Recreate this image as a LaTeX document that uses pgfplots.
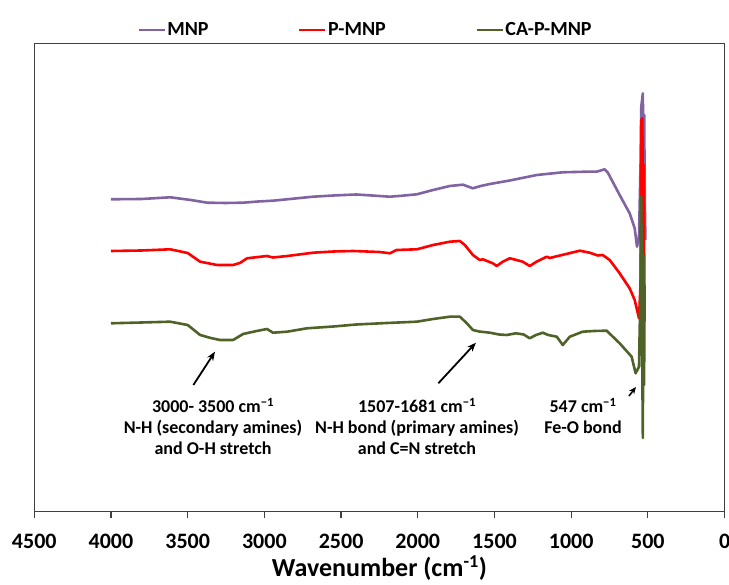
\documentclass[border=0pt]{standalone}
\usepackage{fontspec}
\setmainfont{Carlito}
\usepackage{pgfplots}
\pgfplotsset{compat=1.18}
\usetikzlibrary{arrows.meta}
\definecolor{mnp}{HTML}{8064A2}
\definecolor{pmnp}{HTML}{FF0000}
\definecolor{capmnp}{HTML}{4F6228}
\definecolor{framec}{HTML}{404040}
\begin{document}
\begin{tikzpicture}[x=1pt,y=1pt]
\useasboundingbox (0,0) rectangle (729,585);
\begin{axis}[
  at={(34.3pt,73.3pt)}, anchor=south west,
  width=690.3pt, height=468.4pt, scale only axis,
  xmin=0, xmax=4500, x dir=reverse,
  ymin=73.3, ymax=541.7,
  xtick={0,500,...,4500},
  ytick=\empty,
  xtick pos=bottom, tick align=outside,
  major tick length=6pt,
  axis line style={draw=framec, line width=1.2pt},
  tick style={draw=framec, line width=1.2pt},
  ticklabel style={font=\fontsize{22}{26}\selectfont\bfseries},
  xticklabel style={yshift=-13pt},
  /pgf/number format/assume math mode=true,
  /pgf/number format/1000 sep={},
  xlabel={Wavenumber (cm\textsuperscript{-1})},
  xlabel style={font=\fontsize{26}{30}\selectfont\bfseries,
    at={(axis description cs:0.5,-0.1394)}, anchor=base},
  legend columns=3,
  legend image code/.code={\draw[#1] (0pt,0pt) -- (26pt,0pt);},
  legend style={draw=none, fill=none, inner sep=0pt,
    at={(axis description cs:0.1488,1.0285)}, anchor=west,
    font=\fontsize{20}{24}\selectfont\bfseries,
    /tikz/every even column/.append style={column sep=88pt},
    nodes={inner sep=1.5pt}},
  every axis plot/.append style={line width=2.6pt, line join=round},
]
\addplot[mnp] coordinates {
(4000,385.7) (3800,386) (3614,387.7) (3480,385) (3373,382.3) (3250,382) (3139,382.3) (3040,383.5) (2944,384.3) (2800,386.5) (2683,388.3) (2550,389.5) (2400,390.5) (2300,389.5) (2182,388.3) (2100,389.3) (2006,390.7) (1900,395) (1791,399) (1706,400.3) (1641,396.7) (1590,399) (1530,401) (1400,404.5) (1224,410) (1055,412.7) (900,413.3) (834,413.3) (782,415.7) (761,412.3) (684,390) (619,371.7) (586,356.7) (571,338.3) (558,348) (548,420) (543,478.3) (533,491.7) (528,420) (524,470) (520,380) (516,345)
};
\addlegendentry{MNP}
\addplot[pmnp] coordinates {
(4000,334) (3800,334.5) (3614,335.7) (3500,332) (3419,323.3) (3308,320) (3204,320) (3160,322) (3113,326.7) (2983,329) (2944,327.5) (2850,329) (2683,332.3) (2550,333.5) (2420,334) (2250,333) (2182,331.7) (2138,335) (2006,335.7) (1900,340) (1791,343.3) (1726,344) (1693,340) (1641,330) (1596,325) (1576,325.7) (1511,321.7) (1485,319) (1446,323.3) (1400,326.7) (1357,325) (1316,323.3) (1270,319) (1226,323.3) (1159,328.3) (1140,327) (944,334.3) (879,332.3) (827,329.5) (795,330) (749,325) (684,311.7) (619,296.7) (586,285) (558,266.7) (548,300) (543,465) (536,466.7) (531,300) (527,420) (522,268)
};
\addlegendentry{P-MNP}
\addplot[capmnp] coordinates {
(4000,261.7) (3800,262.5) (3614,263.3) (3500,260) (3419,250) (3350,247) (3289,245) (3204,245) (3139,251) (3050,254) (2983,256) (2944,252.3) (2852,253.3) (2722,256.7) (2550,258.5) (2400,260.5) (2200,262) (2006,263.3) (1900,266) (1791,268.3) (1726,268.3) (1680,261.7) (1641,255) (1600,253.5) (1530,252.3) (1470,250.5) (1420,250) (1360,251.7) (1310,250.5) (1270,246.7) (1230,250) (1185,252.3) (1150,250) (1094,248.3) (1055,240) (1009,248.3) (925,253.3) (850,254) (769,254.3) (684,241.7) (606,228.3) (580,211.7) (558,218.3) (548,300) (543,388.3) (538,250) (533,147) (529,330) (525,200) (521,300)
};
\addlegendentry{CA-P-MNP}
\begin{scope}[font=\fontsize{18}{21}\selectfont\bfseries]
\node[align=center] at (axis cs:3335,158.3) {3000- 3500 cm\textsuperscript{−1}\\N-H (secondary amines)\\and O-H stretch};
\node[align=center] at (axis cs:2005,158.3) {1507-1681 cm\textsuperscript{−1}\\N-H bond (primary amines)\\and C=N stretch};
\node[align=center] at (axis cs:923,169.2) {547 cm\textsuperscript{−1}\\Fe-O bond};
\end{scope}
\draw[line width=1.8pt, -{Stealth[length=9pt,width=7pt]}] (axis cs:3463,200) -- (axis cs:3322,233.3);
\draw[line width=1.8pt, -{Stealth[length=9pt,width=7pt]}] (axis cs:1866,201.7) -- (axis cs:1621,242.3);
\draw[line width=1.5pt, -{Stealth[length=7pt,width=6pt]}] (axis cs:623,189) -- (axis cs:578,198);
\end{axis}
\end{tikzpicture}
\end{document}
